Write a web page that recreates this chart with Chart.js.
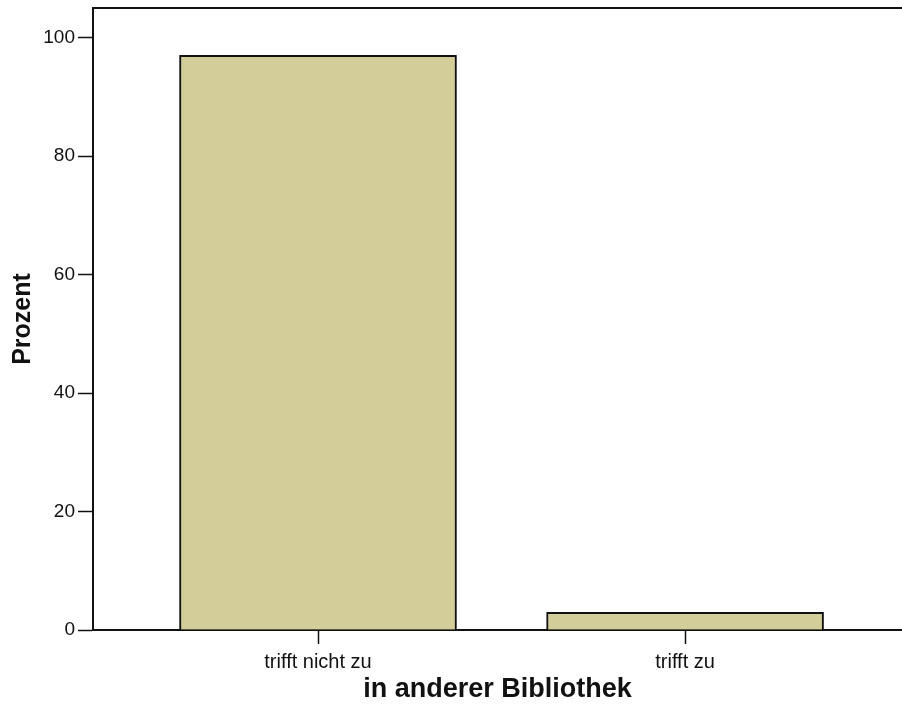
<!DOCTYPE html>
<html>
<head>
<meta charset="utf-8">
<script src="https://cdn.jsdelivr.net/npm/chart.js@4.4.0/dist/chart.umd.min.js"></script>
<style>
  html, body { margin: 0; padding: 0; background: #fff; overflow: hidden; }
  #wrap { width: 902px; height: 704px; }
</style>
</head>
<body>
<div id="wrap"><canvas id="chart"></canvas></div>
<script>
const categories = ["trifft nicht zu", "trifft zu"];
const percent = [97, 3];
const yTicks = [0, 20, 40, 60, 80, 100];

const FONT = "'Liberation Sans', Arial, sans-serif";
const INK = "#111";

// top frame line of the plot area
const frameTop = {
  id: "frameTop",
  afterDraw(chart) {
    const ctx = chart.ctx;
    const a = chart.chartArea;
    ctx.save();
    ctx.strokeStyle = INK;
    ctx.lineWidth = 2;
    ctx.beginPath();
    ctx.moveTo(a.left - 1, a.top);
    ctx.lineTo(chart.width, a.top);
    ctx.stroke();
    ctx.restore();
  }
};

new Chart(document.getElementById("chart"), {
  type: "bar",
  data: {
    datasets: [{
      data: categories.map((c, i) => ({ x: i, y: percent[i] })),
      backgroundColor: "#d3ce99",
      borderColor: INK,
      borderWidth: 2,
      barThickness: 277
    }]
  },
  options: {
    responsive: true,
    maintainAspectRatio: false,
    animation: false,
    layout: { padding: { top: 8, right: 0, left: 0, bottom: 0 } },
    plugins: { legend: { display: false }, tooltip: { enabled: false } },
    scales: {
      x: {
        type: "linear",
        offset: false,
        min: -0.613,
        max: 1.591,
        afterBuildTicks: s => { s.ticks = categories.map((c, i) => ({ value: i })); },
        afterFit: s => { s.height = 74; },
        ticks: {
          callback: v => categories[v],
          color: INK,
          font: { family: FONT, size: 20 },
          padding: 6,
          autoSkip: false,
          maxRotation: 0
        },
        grid: { offset: false, drawOnChartArea: false, color: INK, tickLength: 14, tickWidth: 1.5 },
        border: { color: INK, width: 2 },
        title: {
          display: true,
          text: "in anderer Bibliothek",
          color: INK,
          font: { family: FONT, size: 27, weight: "bold", lineHeight: 1.1 },
          padding: { top: 0, bottom: 0 }
        }
      },
      y: {
        min: 0,
        max: 105,
        afterBuildTicks: s => { s.ticks = yTicks.map(v => ({ value: v })); },
        afterFit: s => { s.width = 93; s.paddingTop = 0; s.paddingBottom = 0; },
        ticks: {
          color: INK,
          font: { family: FONT, size: 19 },
          padding: 3
        },
        grid: { drawOnChartArea: false, color: INK, tickLength: 15, tickWidth: 1.5 },
        border: { color: INK, width: 2 },
        title: {
          display: true,
          text: "Prozent",
          color: INK,
          font: { family: FONT, size: 25, weight: "bold" },
          padding: { top: 8, bottom: 0 }
        }
      }
    }
  },
  plugins: [frameTop]
});
</script>
</body>
</html>
